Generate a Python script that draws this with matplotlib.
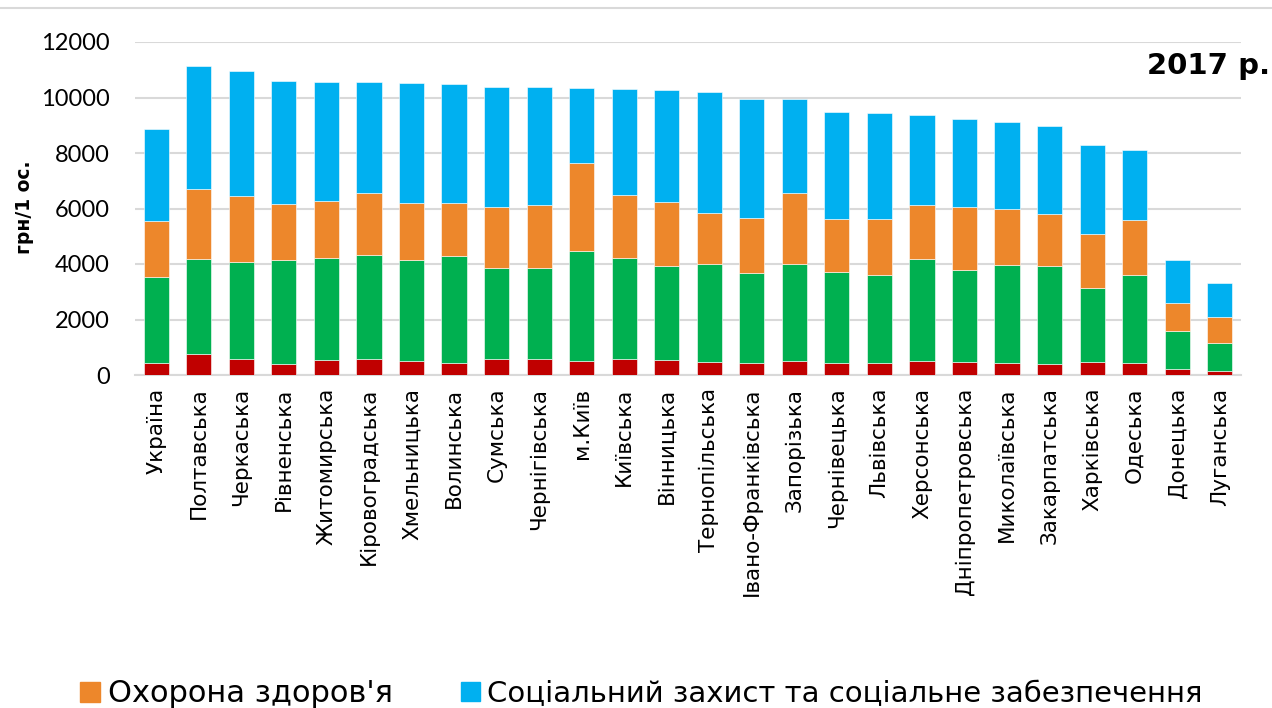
import matplotlib
matplotlib.use("Agg")
import matplotlib.pyplot as plt
from matplotlib.patches import Patch
import numpy as np

# regions, sorted by total
regions = ["Україна", "Полтавська", "Черкаська", "Рівненська", "Житомирська",
           "Кіровоградська", "Хмельницька", "Волинська", "Сумська", "Чернігівська",
           "м.Київ", "Київська", "Вінницька", "Тернопільська", "Івано-Франківська",
           "Запорізька", "Чернівецька", "Львівська", "Херсонська", "Дніпропетровська",
           "Миколаївська", "Закарпатська", "Харківська", "Одеська", "Донецька",
           "Луганська"]

# cumulative tops of each stacked segment, грн/1 ос.
top_red = [447, 749, 592, 411, 556, 592, 519, 447, 592, 580,
           519, 592, 556, 483, 447, 519, 423, 423, 510, 483,
           447, 386, 483, 447, 229, 157]
top_green = [3539, 4191, 4058, 4143, 4215, 4312, 4130, 4287, 3865, 3853,
             4469, 4215, 3925, 3998, 3659, 3998, 3708, 3599, 4170, 3780,
             3949, 3925, 3128, 3611, 1594, 1171]
top_orange = [5556, 6691, 6449, 6147, 6256, 6558, 6208, 6184, 6051, 6111,
              7657, 6485, 6244, 5845, 5664, 6546, 5616, 5616, 6111, 6039,
              5966, 5809, 5085, 5568, 2597, 2089]
top_blue = [8877, 11123, 10942, 10592, 10543, 10543, 10507, 10483, 10386, 10386,
            10350, 10290, 10254, 10205, 9952, 9928, 9493, 9444, 9384, 9227,
            9130, 8973, 8273, 8092, 4155, 3321]

label_orange = "Охорона здоров'я"
label_blue = "Соціальний захист та соціальне забезпечення"

red = np.array(top_red)
green = np.array(top_green) - red
orange = np.array(top_orange) - np.array(top_green)
blue = np.array(top_blue) - np.array(top_orange)

c_red, c_green, c_orange, c_blue = "#C00000", "#00B050", "#ED872B", "#00B0F0"

fig = plt.figure(figsize=(12.72, 7.08), dpi=100)
ax = fig.add_axes([135/1272, 1-375/708, (1241-135)/1272, (375-42)/708])

x = np.arange(len(regions))
w = 0.59
ax.bar(x, red, w, color=c_red, edgecolor="white", linewidth=0.4, zorder=3)
ax.bar(x, green, w, bottom=red, color=c_green, edgecolor="white", linewidth=0.4, zorder=3)
ax.bar(x, orange, w, bottom=red+green, color=c_orange, edgecolor="white",
       linewidth=0.4, zorder=3)
ax.bar(x, blue, w, bottom=red+green+orange, color=c_blue, edgecolor="white",
       linewidth=0.4, zorder=3)

ax.set_xlim(-0.5, len(regions)-0.5)
ax.set_ylim(0, 12000)
ax.set_yticks(range(0, 12001, 2000))
ax.grid(axis="y", color="#d9d9d9", linewidth=1.5, zorder=0)
for s in ["top", "right", "left"]:
    ax.spines[s].set_visible(False)
ax.spines["bottom"].set_color("#d9d9d9")
ax.spines["bottom"].set_linewidth(1.5)
ax.tick_params(length=0)
ax.tick_params(axis="y", pad=18)
ax.tick_params(axis="x", pad=9)
ax.set_xticks(x)
ax.set_xticklabels(regions, rotation=90, fontsize=15.5, family="DejaVu Sans")
for t in ax.get_yticklabels():
    t.set_fontsize(17)
    t.set_family("Lato")

fig.text(24/1272, 1-207/708, "грн/1 ос.", rotation=90, ha="center", va="center",
         fontsize=13.5, fontweight="bold", family="DejaVu Sans")

fig.text(1270/1272, 1-66/708, "2017 р.", ha="right", va="center", fontsize=21,
         fontweight="bold", family="DejaVu Sans")

# thin border line at the top
fig.add_artist(plt.Line2D([0, 1], [1-8/708, 1-8/708], color="#d9d9d9", lw=1.5))

# legend (only the lower row is visible in the original)
leg_kw = dict(loc="center left", frameon=False, borderpad=0, handlelength=0.65,
              handleheight=0.65, handletextpad=0.27)
fig.legend(handles=[Patch(color=c_orange, label=label_orange)],
           bbox_to_anchor=(65/1272, 1-694/708), prop={"size": 22}, **leg_kw)
fig.legend(handles=[Patch(color=c_blue, label=label_blue)],
           bbox_to_anchor=(446/1272, 1-694/708), prop={"size": 21}, **leg_kw)

fig.savefig("out.png", dpi=100)
